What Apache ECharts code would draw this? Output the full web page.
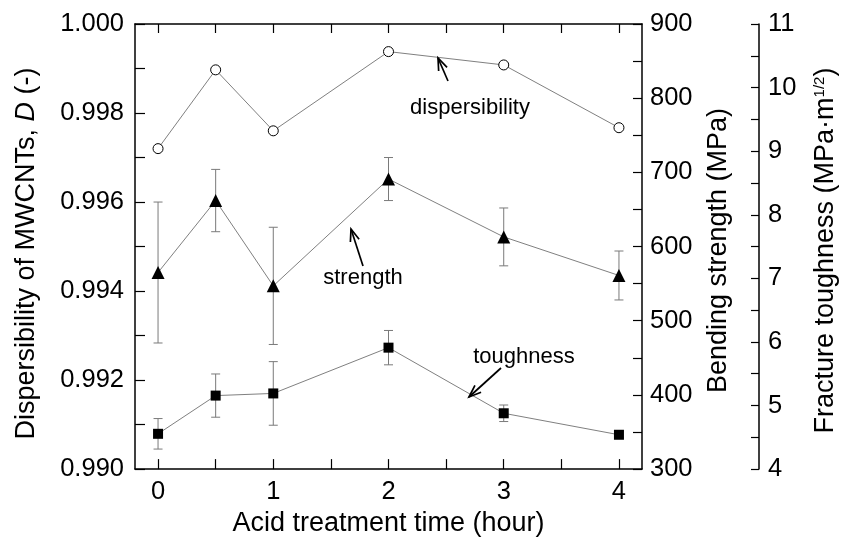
<!DOCTYPE html>
<html>
<head>
<meta charset="utf-8">
<script src="https://cdn.jsdelivr.net/npm/echarts@6/dist/echarts.min.js"></script>
<style>html,body{margin:0;padding:0;background:#fff}#c{width:847px;height:542px}</style>
</head>
<body>
<div id="c"></div>
<script>
const times = [0, 0.5, 1, 2, 3, 4];
const dispersibility = [0.99720, 0.99897, 0.99760, 0.99938, 0.99908, 0.99767];
const strength = [565, 662, 547, 691, 613, 561];
const strengthErr = [95, 42, 79, 29, 39, 33];
const toughness = [4.555, 5.156, 5.19, 5.91, 4.878, 4.54];
const toughnessErr = [0.24, 0.34, 0.5, 0.27, 0.13, 0.05];
const xTicks = [0, 0.5, 1, 1.5, 2, 2.5, 3, 3.5, 4];
const xLabels = [0, 1, 2, 3, 4];

const FONT = 'Liberation Sans';
const chart = echarts.init(document.getElementById('c'), null, {renderer: 'canvas'});

function pairs(ys) { return times.map((t, i) => [t, ys[i]]); }
function errData(ys, es) { return times.map((t, i) => [t, ys[i] - es[i], ys[i] + es[i]]); }

function errRender(params, api) {
  const x = api.value(0);
  const lo = api.coord([x, api.value(1)]);
  const hi = api.coord([x, api.value(2)]);
  const w = 4.5;
  const style = {stroke: '#7a7a7a', lineWidth: 1, fill: null};
  return {
    type: 'group',
    children: [
      {type: 'line', shape: {x1: lo[0], y1: lo[1], x2: hi[0], y2: hi[1]}, style},
      {type: 'line', shape: {x1: lo[0] - w, y1: lo[1], x2: lo[0] + w, y2: lo[1]}, style},
      {type: 'line', shape: {x1: hi[0] - w, y1: hi[1], x2: hi[0] + w, y2: hi[1]}, style}
    ]
  };
}

const axisLineStyle = {color: '#000', width: 1.5};
const tickStyle = {color: '#000', width: 1.2};

function arrow(x1, y1, x2, y2) {
  const a = Math.atan2(y2 - y1, x2 - x1);
  const L = 13, ang = 0.36;
  const p1 = [x2 - L * Math.cos(a - ang), y2 - L * Math.sin(a - ang)];
  const p2 = [x2 - L * Math.cos(a + ang), y2 - L * Math.sin(a + ang)];
  return [
    {type: 'line', shape: {x1, y1, x2, y2}, style: {stroke: '#000', lineWidth: 1.7}, z: 10},
    {type: 'polyline', shape: {points: [p1, [x2, y2], p2]}, style: {stroke: '#000', lineWidth: 1.7, fill: null}, z: 10}
  ];
}
function label(text, x, y) {
  return {type: 'text', x, y, z: 10, style: {text, fontSize: 22, fontFamily: FONT, fill: '#000', align: 'center', verticalAlign: 'middle'}};
}

const option = {
  backgroundColor: '#fff',
  animation: false,
  textStyle: {fontFamily: FONT},
  grid: {left: 135, right: 196, top: 24, bottom: 64},
  xAxis: [
    {
      type: 'value', position: 'bottom', min: -0.2, max: 4.2,
      name: 'Acid treatment time (hour)', nameLocation: 'middle', nameGap: 34,
      nameTextStyle: {fontSize: 27, color: '#000', fontFamily: FONT},
      axisLine: {show: true, onZero: false, lineStyle: axisLineStyle},
      axisTick: {show: true, inside: true, length: 10, lineStyle: tickStyle, customValues: xTicks},
      axisLabel: {show: true, fontSize: 25.5, color: '#000', margin: 10, customValues: xLabels, formatter: v => String(v), fontFamily: FONT},
      splitLine: {show: false}
    },
    {
      type: 'value', position: 'top', min: -0.2, max: 4.2,
      axisLine: {show: true, onZero: false, lineStyle: axisLineStyle},
      axisTick: {show: true, inside: true, length: 9, lineStyle: tickStyle, customValues: xTicks},
      axisLabel: {show: false},
      splitLine: {show: false}
    }
  ],
  yAxis: [
    {
      type: 'value', position: 'left', min: 0.99, max: 1.0, interval: 0.002,
      name: 'Dispersibility of MWCNTs, {i|D} (-)', nameLocation: 'middle', nameGap: 95, nameRotate: 90,
      nameTextStyle: {fontSize: 27, color: '#000', fontFamily: FONT, padding: [0, 14, 0, 0],
        rich: {i: {fontSize: 27, fontStyle: 'italic', color: '#000', fontFamily: FONT}}},
      axisLine: {show: true, onZero: false, lineStyle: axisLineStyle},
      axisTick: {show: true, inside: true, length: 10, lineStyle: tickStyle},
      minorTick: {show: true, splitNumber: 2, length: 10, lineStyle: tickStyle},
      axisLabel: {fontSize: 25.5, color: '#000', margin: 11, formatter: v => v.toFixed(3), fontFamily: FONT},
      splitLine: {show: false}
    },
    {
      type: 'value', position: 'right', min: 300, max: 900, interval: 100,
      name: 'Bending strength (MPa)', nameLocation: 'middle', nameGap: 63, nameRotate: 90,
      nameTextStyle: {fontSize: 27, color: '#000', fontFamily: FONT, padding: [0, 8, 0, 0]},
      axisLine: {show: true, onZero: false, lineStyle: axisLineStyle},
      axisTick: {show: true, inside: true, length: 9, lineStyle: tickStyle},
      minorTick: {show: true, splitNumber: 2, length: 9, lineStyle: tickStyle},
      axisLabel: {fontSize: 25.5, color: '#000', margin: 8, fontFamily: FONT},
      splitLine: {show: false}
    },
    {
      type: 'value', position: 'right', offset: 117, min: 4, max: 11, interval: 1,
      name: 'Fracture toughness (MPa·m{s|1/2})', nameLocation: 'middle', nameGap: 53, nameRotate: 90,
      nameTextStyle: {fontSize: 27, color: '#000', fontFamily: FONT, padding: [0, 8, 0, 0],
        rich: {s: {fontSize: 15, color: '#000', fontFamily: FONT, verticalAlign: 'top', padding: [0, 0, 12, 0]}}},
      axisLine: {show: true, onZero: false, lineStyle: axisLineStyle},
      axisTick: {show: true, inside: true, length: 8, lineStyle: tickStyle},
      minorTick: {show: true, splitNumber: 2, length: 8, lineStyle: tickStyle},
      axisLabel: {fontSize: 25.5, color: '#000', margin: 9, fontFamily: FONT},
      splitLine: {show: false}
    }
  ],
  series: [
    {
      name: 'strengthErr', type: 'custom', xAxisIndex: 0, yAxisIndex: 1, z: 1,
      renderItem: errRender, data: errData(strength, strengthErr), encode: {x: 0, y: [1, 2]}
    },
    {
      name: 'toughnessErr', type: 'custom', xAxisIndex: 0, yAxisIndex: 2, z: 1,
      renderItem: errRender, data: errData(toughness, toughnessErr), encode: {x: 0, y: [1, 2]}
    },
    {
      name: 'dispersibility', type: 'line', xAxisIndex: 0, yAxisIndex: 0, z: 3,
      data: pairs(dispersibility), symbol: 'circle', symbolSize: 10, showAllSymbol: true,
      lineStyle: {color: '#808080', width: 1},
      itemStyle: {color: '#fff', borderColor: '#000', borderWidth: 1}
    },
    {
      name: 'strength', type: 'line', xAxisIndex: 0, yAxisIndex: 1, z: 3,
      data: pairs(strength), symbol: 'triangle', symbolSize: 13, showAllSymbol: true,
      lineStyle: {color: '#808080', width: 1},
      itemStyle: {color: '#000', borderColor: '#000', borderWidth: 0}
    },
    {
      name: 'toughness', type: 'line', xAxisIndex: 0, yAxisIndex: 2, z: 3,
      data: pairs(toughness), symbol: 'rect', symbolSize: 10, showAllSymbol: true,
      lineStyle: {color: '#808080', width: 1},
      itemStyle: {color: '#000', borderColor: '#000', borderWidth: 0}
    }
  ],
  graphic: [
    label('dispersibility', 470, 108),
    ...arrow(448, 81, 438, 58),
    label('strength', 363, 278),
    ...arrow(363, 266, 351, 229),
    label('toughness', 524, 357),
    ...arrow(501, 368, 469, 397)
  ]
};
chart.setOption(option);
</script>
</body>
</html>
